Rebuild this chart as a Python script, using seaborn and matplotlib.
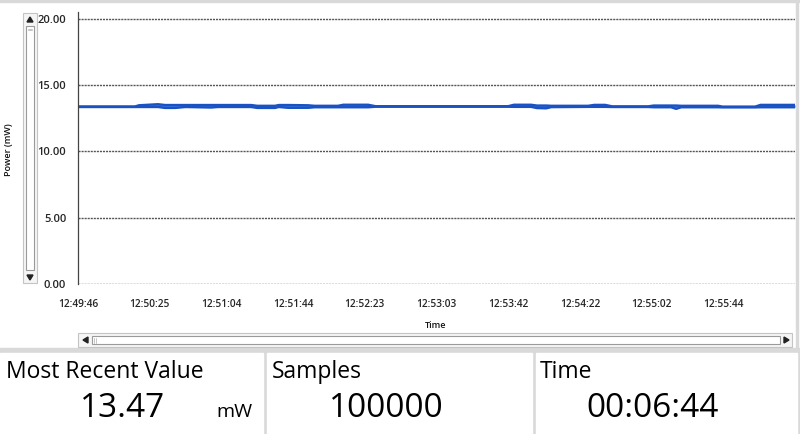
import numpy as np
import pandas as pd
import seaborn as sns
import matplotlib.pyplot as plt
from matplotlib.patches import Rectangle, Polygon

# power trace, drawn as upper/lower envelope of the samples (mW)
sample_idx = [0, 7950, 8500, 11160, 12140, 13530, 15000, 18550, 19530, 24130,
              25000, 27480, 28000, 29290, 32080, 33000, 36270, 37000, 40460, 41500,
              59990, 60800, 63190, 64000, 65290, 66000, 71150, 72000, 73520, 74500,
              79520, 80300, 82720, 83420, 84120, 89280, 89900, 94440, 95200, 100000]
power_hi = [13.38, 13.38, 13.47, 13.55, 13.49, 13.49, 13.49, 13.49, 13.49, 13.49,
            13.43, 13.43, 13.49, 13.49, 13.47, 13.43, 13.43, 13.51, 13.51, 13.40,
            13.40, 13.51, 13.51, 13.45, 13.45, 13.43, 13.43, 13.50, 13.50, 13.39,
            13.39, 13.45, 13.45, 13.45, 13.43, 13.43, 13.37, 13.37, 13.50, 13.50]
power_lo = [13.34, 13.34, 13.34, 13.34, 13.27, 13.27, 13.34, 13.30, 13.34, 13.34,
            13.27, 13.27, 13.34, 13.28, 13.28, 13.32, 13.32, 13.32, 13.32, 13.36,
            13.36, 13.35, 13.35, 13.26, 13.24, 13.33, 13.35, 13.35, 13.35, 13.34,
            13.34, 13.32, 13.32, 13.20, 13.32, 13.32, 13.31, 13.31, 13.32, 13.32]

tick_samples = [0, 10000, 20000, 30000, 40000, 50000, 60000, 70000, 80000, 90000]
tick_times = ['12:49:46', '12:50:25', '12:51:04', '12:51:44', '12:52:23',
              '12:53:03', '12:53:42', '12:54:22', '12:55:02', '12:55:44']
y_ticks = [0, 5, 10, 15, 20]

most_recent = '13.47'
n_samples = '100000'
elapsed = '00:06:44'

df = pd.DataFrame({'sample': sample_idx, 'hi': power_hi, 'lo': power_lo})

sns.set_theme(style='white')
plt.rcParams['font.family'] = ['Open Sans', 'DejaVu Sans']

fig = plt.figure(figsize=(8, 4.34), dpi=100)

# background "window" layer in pixel coordinates
bg = fig.add_axes([0, 0, 1, 1], zorder=0)
bg.set_xlim(0, 800)
bg.set_ylim(434, 0)
bg.axis('off')

gray = '#d9d9d9'
bg.add_patch(Rectangle((0, 0), 800, 1.5, color=gray))
bg.add_patch(Rectangle((796, 0), 1.5, 350, color=gray))
bg.add_patch(Rectangle((0, 348), 800, 86, color=gray))
for x0, x1 in [(0, 263), (267, 532), (536, 797)]:
    bg.add_patch(Rectangle((x0, 353), x1 - x0, 81, color='white'))

# vertical scrollbar
bg.add_patch(Rectangle((23, 13), 14, 270, facecolor='#f5f5f5', edgecolor='#c4c4c4', lw=0.8))
bg.add_patch(Rectangle((26, 26), 8, 244, facecolor='white', edgecolor='#9a9a9a', lw=0.8))
bg.add_patch(Polygon([[27, 22], [33, 22], [30, 17]], color='#222222'))
bg.add_patch(Polygon([[27, 275], [33, 275], [30, 280]], color='#222222'))
bg.plot([28, 32], [28.5, 28.5], color='#bbbbbb', lw=0.6)
bg.plot([28, 32], [30, 30], color='#bbbbbb', lw=0.6)

# horizontal scrollbar
bg.add_patch(Rectangle((78, 333), 714, 14, facecolor='#f5f5f5', edgecolor='#c4c4c4', lw=0.8))
bg.add_patch(Rectangle((92, 336), 688, 8, facecolor='white', edgecolor='#9a9a9a', lw=0.8))
bg.add_patch(Polygon([[88, 337], [88, 343], [83, 340]], color='#222222'))
bg.add_patch(Polygon([[784, 337], [784, 343], [789, 340]], color='#222222'))
bg.plot([94, 94], [337.5, 342.5], color='#bbbbbb', lw=0.6)
bg.plot([96, 96], [337.5, 342.5], color='#bbbbbb', lw=0.6)

# axis titles
bg.text(9, 150, 'Power (mW)', rotation=90, fontsize=6.5, fontweight='semibold',
        ha='center', va='center', color='#111111')
bg.text(436, 325, 'Time', fontsize=6.5, fontweight='semibold',
        ha='center', va='center', color='#111111')

# readout panels
bg.text(6, 378, 'Most Recent Value', fontsize=16.5, color='black', va='baseline')
bg.text(123, 417, most_recent, fontsize=24, color='black', ha='center', va='baseline')
bg.text(216, 417, 'mW', fontsize=14, color='black', va='baseline')
bg.text(272, 378, 'Samples', fontsize=16.5, color='black', va='baseline')
bg.text(386, 417, n_samples, fontsize=24, color='black', ha='center', va='baseline')
bg.text(540, 378, 'Time', fontsize=16.5, color='black', va='baseline')
bg.text(653, 417, elapsed, fontsize=24, color='black', ha='center', va='baseline')

# main graph
ax = fig.add_axes([78 / 800, 1 - 284 / 434, 717 / 800, 272 / 434], zorder=1)
ax.patch.set_alpha(0)

ax.fill_between(df['sample'], df['lo'], df['hi'], color='#3f7fe6', lw=0)
sns.lineplot(data=df, x='sample', y='hi', ax=ax, color='#1a52c4', lw=1.7)
sns.lineplot(data=df, x='sample', y='lo', ax=ax, color='#1a52c4', lw=1.7)

ax.set_xlim(0, 100000)
ax.set_ylim(0, 20.5)
ax.set_xticks(tick_samples)
ax.set_xticklabels(tick_times, fontsize=7.3, fontweight='semibold')
ax.set_yticks(y_ticks)
ax.set_yticklabels([f'{v:.2f}' for v in y_ticks], fontsize=8, fontweight='semibold')
ax.tick_params(axis='x', direction='in', length=3, width=0.8, color='#333333', pad=11)
ax.tick_params(axis='y', direction='inout', length=5, width=0.8, color='#333333', pad=6)

for v in y_ticks:
    ax.axhline(v, color='#555555', lw=1.0, ls=(0, (1.5, 0.7)), zorder=0)

for side in ['top', 'right', 'bottom']:
    ax.spines[side].set_visible(False)
ax.spines['left'].set_color('#444444')
ax.spines['left'].set_linewidth(0.9)

ax.set_xlabel('')
ax.set_ylabel('')

fig.savefig('out.png', dpi=100)
